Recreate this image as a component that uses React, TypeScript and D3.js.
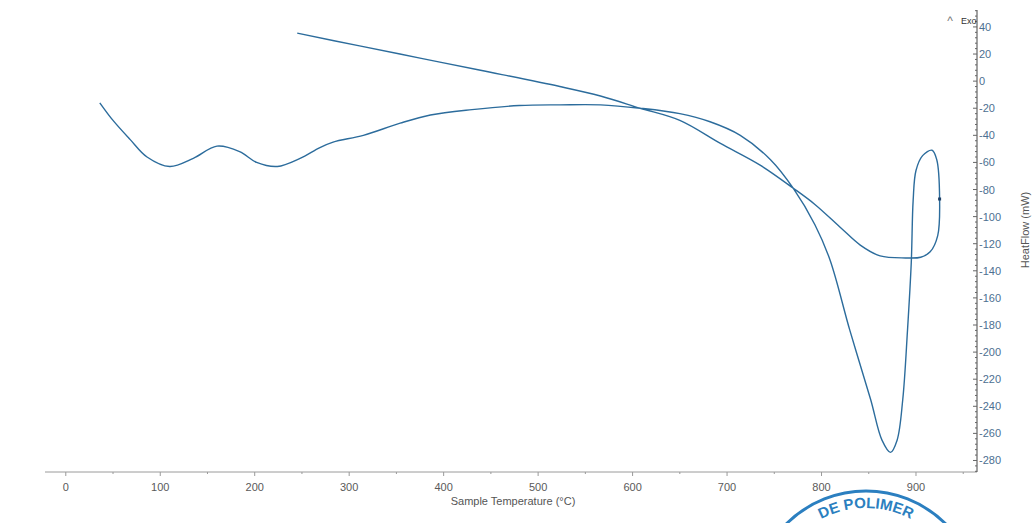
import React, { useEffect, useRef } from "react";
import * as d3 from "d3";

// DSC run: heating 36 -> 925 °C then cooling back to 245 °C (one continuous trace)
const sampleTemp = [
  36, 50, 68, 86, 110, 135, 160, 184, 202, 224, 248, 269, 283, 315, 354, 386, 430, 480,
  523, 566, 608, 650, 682, 714, 746, 770, 793, 809, 830, 852, 864, 873, 880, 886, 891,
  895, 897, 900, 907, 917, 922, 925, 923, 915, 905, 889, 862, 841, 820, 793, 770, 735,
  693, 650, 608, 566, 523, 439, 375, 311, 245,
];
const heatFlow = [
  -16, -29, -43, -56, -63, -57, -48, -52, -60, -63, -57, -49, -45, -40, -31, -25, -21, -18,
  -17.5, -17.5, -20, -24, -30, -40, -58, -79, -106, -132, -184, -235, -265, -274, -265, -235, -184,
  -134, -88, -66, -55, -51, -58, -87, -114, -126, -130, -130.5, -129, -121, -108, -91, -79, -62,
  -46, -29, -20, -11, -4, 8, 17, 26, 35.4,
];
const markerIndex = 41;

const xTicks = [0, 100, 200, 300, 400, 500, 600, 700, 800, 900];
const yTicks = [40, 20, 0, -20, -40, -60, -80, -100, -120, -140, -160, -180, -200, -220, -240, -260, -280];

const App = () => {
  const svgRef = useRef<SVGSVGElement>(null);

  useEffect(() => {
    const svg = d3.select(svgRef.current);
    svg.selectAll("*").remove();

    const width = 1035;
    const height = 523;
    const font = "'Liberation Sans', Arial, sans-serif";

    const x = d3.scaleLinear().domain([-22, 954]).range([45, 967]);
    const y = d3.scaleLinear().domain([-288.5, 52.5]).range([472, 10]);
    const axisX = 977;

    svg.attr("width", width).attr("height", height);
    svg.append("rect").attr("width", width).attr("height", height).attr("fill", "#fff");

    // stamp in the corner (drawn first, sits under the axis text)
    const stamp = svg.append("g");
    const cx = 866;
    const cy = 604;
    stamp
      .append("circle")
      .attr("cx", cx)
      .attr("cy", cy)
      .attr("r", 113)
      .attr("fill", "none")
      .attr("stroke", "#2b7fc0")
      .attr("stroke-width", 3);
    const r = 96;
    stamp
      .append("path")
      .attr("id", "stampArc")
      .attr("d", `M ${cx - r} ${cy} A ${r} ${r} 0 0 1 ${cx + r} ${cy}`)
      .attr("fill", "none");
    stamp
      .append("text")
      .attr("font-family", font)
      .attr("font-size", 15)
      .attr("font-weight", "bold")
      .attr("fill", "#2b7fc0")
      .append("textPath")
      .attr("href", "#stampArc")
      .attr("startOffset", "50%")
      .attr("text-anchor", "middle")
      .text("DE POLIMER");

    // bottom axis
    const bottom = svg.append("g");
    bottom
      .append("line")
      .attr("x1", 45)
      .attr("x2", axisX)
      .attr("y1", 472)
      .attr("y2", 472)
      .attr("stroke", "#9a9a9a")
      .attr("stroke-width", 1);
    d3.range(0, 951, 50).forEach((t) => {
      bottom
        .append("line")
        .attr("x1", x(t))
        .attr("x2", x(t))
        .attr("y1", 472)
        .attr("y2", t % 100 === 0 ? 476 : 474)
        .attr("stroke", "#9a9a9a");
    });
    bottom
      .selectAll("text.xt")
      .data(xTicks)
      .enter()
      .append("text")
      .attr("x", (d) => x(d))
      .attr("y", 491)
      .attr("text-anchor", "middle")
      .attr("font-family", font)
      .attr("font-size", 11)
      .attr("fill", "#5a5a5a")
      .text((d) => String(d));
    bottom
      .append("text")
      .attr("x", 513)
      .attr("y", 505)
      .attr("text-anchor", "middle")
      .attr("font-family", font)
      .attr("font-size", 11)
      .attr("fill", "#555")
      .text("Sample Temperature (°C)");

    // right axis
    const right = svg.append("g");
    right
      .append("line")
      .attr("x1", axisX)
      .attr("x2", axisX)
      .attr("y1", 10)
      .attr("y2", 472)
      .attr("stroke", "#444")
      .attr("stroke-width", 1);
    d3.range(-288, 53, 4).forEach((v) => {
      right
        .append("line")
        .attr("x1", axisX)
        .attr("x2", axisX - (v % 20 === 0 ? 4 : 2))
        .attr("y1", y(v))
        .attr("y2", y(v))
        .attr("stroke", "#666");
    });
    right
      .selectAll("text.yt")
      .data(yTicks)
      .enter()
      .append("text")
      .attr("x", axisX + 2)
      .attr("y", (d) => y(d) + 4)
      .attr("font-family", font)
      .attr("font-size", 11)
      .attr("fill", "#4d6f91")
      .text((d) => String(d));
    right
      .append("text")
      .attr("transform", `translate(1029,230) rotate(-90)`)
      .attr("text-anchor", "middle")
      .attr("font-family", font)
      .attr("font-size", 11)
      .attr("fill", "#555")
      .text("HeatFlow (mW)");

    // Exo marker
    svg
      .append("text")
      .attr("x", 950)
      .attr("y", 25)
      .attr("text-anchor", "middle")
      .attr("font-family", font)
      .attr("font-size", 12)
      .attr("fill", "#777")
      .text("^");
    svg
      .append("text")
      .attr("x", 961)
      .attr("y", 24)
      .attr("font-family", font)
      .attr("font-size", 9)
      .attr("fill", "#333")
      .text("Exo");

    // curve
    const pts = sampleTemp.map((t, i) => [t, heatFlow[i]] as [number, number]);
    const line = d3
      .line<[number, number]>()
      .x((d) => x(d[0]))
      .y((d) => y(d[1]))
      .curve(d3.curveCatmullRom.alpha(0.5));
    svg
      .append("path")
      .attr("d", line(pts))
      .attr("fill", "none")
      .attr("stroke", "#2c6c9c")
      .attr("stroke-width", 1.4);
    svg
      .append("rect")
      .attr("x", x(sampleTemp[markerIndex]) - 1.5)
      .attr("y", y(heatFlow[markerIndex]) - 1.5)
      .attr("width", 3)
      .attr("height", 3)
      .attr("fill", "#1d3f66");
  }, []);

  return (
    <svg
      ref={svgRef}
      style={{ position: "absolute", left: 0, top: 0, display: "block" }}
    ></svg>
  );
};

export default App;
